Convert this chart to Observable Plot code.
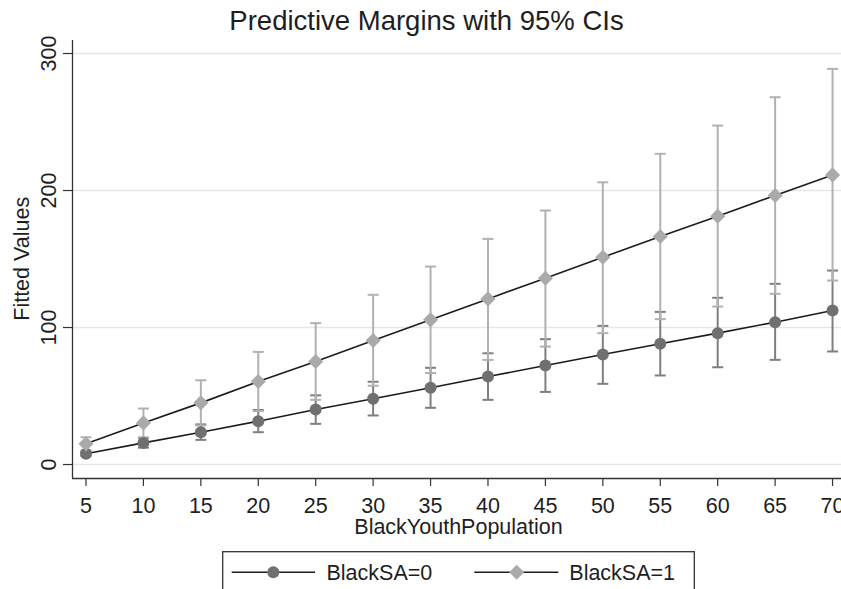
<!DOCTYPE html>
<html><head><meta charset="utf-8">
<script src="https://cdn.jsdelivr.net/npm/d3@7"></script>
<script src="https://cdn.jsdelivr.net/npm/@observablehq/plot@0.6"></script>
<style>
body{margin:0;background:#fff;}
#wrap{position:relative;width:841px;height:589px;overflow:hidden;background:#fff;font-family:"Liberation Sans",Arial,Helvetica,sans-serif;}
#wrap svg.plot{position:absolute;left:0;top:0;}
#legend{position:absolute;left:222px;top:551px;}
</style></head><body><div id="wrap"></div>
<script>
// ---- data ----
const titleText = "Predictive Margins with 95% CIs";
const xLabel = "BlackYouthPopulation";
const yLabel = "Fitted Values";
const seriesNames = ["BlackSA=0", "BlackSA=1"];
const xValues = [5, 10, 15, 20, 25, 30, 35, 40, 45, 50, 55, 60, 65, 70];
const xTicks = [5, 10, 15, 20, 25, 30, 35, 40, 45, 50, 55, 60, 65, 70];
const yTicks = [0, 100, 200, 300];
const xDomain = [3.825, 70.78];
const yDomain = [-10.2, 309.5];

const est0 = [7.8, 15.8, 23.6, 31.6, 40.1, 48.0, 56.0, 64.2, 72.3, 80.3, 88.1, 95.9, 103.9, 112.4];
const lo0  = [6.3, 12.3, 18.0, 23.6, 29.7, 35.8, 41.4, 47.2, 53.0, 58.9, 65.0, 71.0, 76.4, 82.5];
const hi0  = [9.3, 19.3, 29.3, 39.8, 50.5, 60.4, 70.6, 81.2, 91.5, 101.2, 111.4, 121.7, 131.9, 141.6];

const est1 = [15.1, 30.4, 45.0, 60.6, 75.2, 90.5, 105.6, 120.9, 136.0, 151.3, 166.4, 181.3, 196.4, 211.4];
const lo1  = [10.3, 19.9, 28.5, 39.0, 47.2, 57.5, 66.8, 76.4, 86.1, 95.9, 106.1, 115.3, 124.6, 134.3];
const hi1  = [19.9, 40.9, 61.5, 82.2, 103.2, 123.9, 144.5, 164.7, 185.4, 206.0, 226.8, 247.4, 268.1, 288.8];

// ---- styles ----
const c0Marker = "#6f7072", c0Ci = "#7e7f81";
const c1Marker = "#a9aaac", c1Ci = "#b0b1b3";
const lineColor = "#1c1c1c", axisColor = "#333333", gridColor = "#e6e6e6", textColor = "#1e1e1e";
const FS = 21.5;

const rows0 = xValues.map((x, i) => ({x, est: est0[i], lo: lo0[i], hi: hi0[i]}));
const rows1 = xValues.map((x, i) => ({x, est: est1[i], lo: lo1[i], hi: hi1[i]}));

const capSymbol = {draw(ctx) { ctx.moveTo(-5.5, 0); ctx.lineTo(5.5, 0); }};

function ciMarks(rows, color) {
  return [
    Plot.ruleX(rows, {x: "x", y1: "lo", y2: "hi", stroke: color, strokeWidth: 2}),
    Plot.dot(rows, {x: "x", y: "lo", symbol: capSymbol, r: 1, fill: "none", stroke: color, strokeWidth: 2}),
    Plot.dot(rows, {x: "x", y: "hi", symbol: capSymbol, r: 1, fill: "none", stroke: color, strokeWidth: 2})
  ];
}

const chart = Plot.plot({
  width: 841, height: 589,
  marginLeft: 72, marginRight: 0, marginTop: 40, marginBottom: 111,
  style: {fontFamily: "'Liberation Sans', Arial, Helvetica, sans-serif", background: "transparent", color: axisColor},
  x: {domain: xDomain},
  y: {domain: yDomain},
  marks: [
    Plot.gridY(yTicks, {stroke: gridColor, strokeOpacity: 1, strokeWidth: 1.6}),
    ...ciMarks(rows0, c0Ci),
    ...ciMarks(rows1, c1Ci),
    Plot.line(rows0, {x: "x", y: "est", stroke: lineColor, strokeWidth: 1.6}),
    Plot.line(rows1, {x: "x", y: "est", stroke: lineColor, strokeWidth: 1.6}),
    Plot.dot(rows0, {x: "x", y: "est", r: 6, fill: c0Marker, stroke: "none", symbol: "circle"}),
    Plot.dot(rows1, {x: "x", y: "est", r: 6.8, fill: c1Marker, stroke: "none", symbol: "diamond2"}),
    Plot.ruleX([xDomain[0]], {stroke: axisColor, strokeWidth: 1.3}),
    Plot.ruleY([yDomain[0]], {stroke: axisColor, strokeWidth: 1.3}),
    Plot.axisX(xTicks, {tickSize: 8, tickPadding: 11, fontSize: FS, label: null, stroke: axisColor, fill: textColor, strokeWidth: 1.2}),
    Plot.axisY(yTicks, {tickSize: 9, tickPadding: 8, tickRotate: -90, fontSize: FS, label: null, stroke: axisColor, fill: textColor, strokeWidth: 1.2}),
    Plot.text([titleText], {text: d => d, frameAnchor: "top", dx: -30.5, dy: -10.7, lineAnchor: "bottom", fontSize: 27.5, fill: textColor}),
    Plot.text([xLabel], {text: d => d, frameAnchor: "bottom", dx: 1.5, dy: 55, lineAnchor: "bottom", fontSize: FS, fill: textColor}),
    Plot.text([yLabel], {text: d => d, frameAnchor: "left", textAnchor: "middle", dx: -43.7, dy: -0.7, rotate: -90, lineAnchor: "bottom", fontSize: FS, fill: textColor})
  ]
});
document.getElementById("wrap").appendChild(chart);

// ---- legend ----
const ns = "http://www.w3.org/2000/svg";
const leg = document.createElementNS(ns, "svg");
leg.setAttribute("width", 474); leg.setAttribute("height", 40);
leg.setAttribute("id", "legend");
leg.style.fontFamily = "'Liberation Sans', Arial, Helvetica, sans-serif";
function el(tag, attrs, txt) {
  const e = document.createElementNS(ns, tag);
  for (const k in attrs) e.setAttribute(k, attrs[k]);
  if (txt != null) e.textContent = txt;
  leg.appendChild(e); return e;
}
el("rect", {x: 0.7, y: 0.7, width: 471.6, height: 60, fill: "#fff", stroke: axisColor, "stroke-width": 1.3});
const entries = [
  {x0: 9.7, x1: 93, mx: 51.3, name: seriesNames[0], color: c0Marker, kind: "circle", tx: 104.5},
  {x0: 252.3, x1: 336.3, mx: 294.7, name: seriesNames[1], color: c1Marker, kind: "diamond", tx: 347.3}
];
const ly = 21.3;
for (const e of entries) {
  el("line", {x1: e.x0, x2: e.x1, y1: ly, y2: ly, stroke: lineColor, "stroke-width": 1.6});
  if (e.kind === "circle") el("circle", {cx: e.mx, cy: ly, r: 6, fill: e.color});
  else { const h = 7.5; el("path", {d: `M${e.mx},${ly-h}L${e.mx+h},${ly}L${e.mx},${ly+h}L${e.mx-h},${ly}Z`, fill: e.color}); }
  el("text", {x: e.tx, y: 29, "font-size": FS, fill: textColor}, e.name);
}
document.getElementById("wrap").appendChild(leg);
</script></body></html>
